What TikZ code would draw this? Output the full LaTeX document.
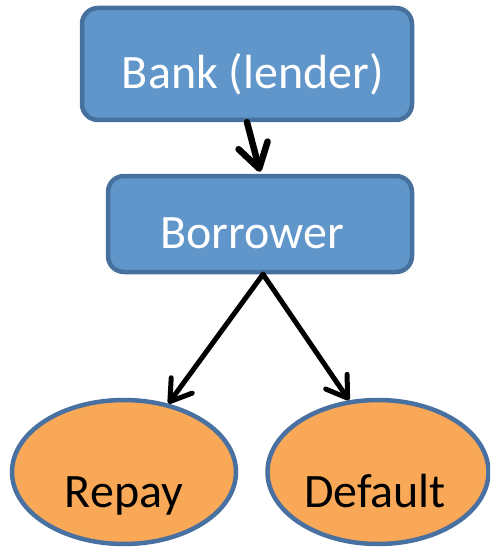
\documentclass[tikz,border=0pt]{standalone}
\usepackage{fontspec}
\setmainfont{Carlito}
\usetikzlibrary{arrows.meta,shapes.geometric}
\definecolor{boxfill}{RGB}{97,150,202}
\definecolor{boxline}{RGB}{70,112,158}
\definecolor{ovalfill}{RGB}{249,168,87}
\definecolor{ovalline}{RGB}{72,112,160}
\tikzset{
  x=1pt, y=-1pt,
  actor/.style={draw=boxline, fill=boxfill, line width=4.5pt, rounded corners=16pt,
                rectangle, inner sep=0pt},
  outcome/.style={draw=ovalline, fill=ovalfill, line width=4.5pt, ellipse, inner sep=0pt},
  boxtext/.style={anchor=base, font=\fontsize{48}{54}\selectfont, text=white, inner sep=0pt},
  ovaltext/.style={anchor=base, font=\fontsize{48}{54}\selectfont, text=black, inner sep=0pt},
  thick link/.style={line width=6.5pt, line cap=round,
                     -{Straight Barb[round, length=24pt, width=30pt]}},
  link/.style={line width=5pt, line cap=round,
               -{Straight Barb[round, length=20pt, width=26pt]}},
}
\begin{document}
\begin{tikzpicture}
  \path[use as bounding box] (0,0) rectangle (490,548);
  \begin{scope}
  \clip (0,0) rectangle (490,548);

  % boxes for the two parties
  \node[actor, minimum width=330pt, minimum height=112pt] (bank) at (247,64) {};
  \node[actor, minimum width=304pt, minimum height=96pt] (borrower) at (260,224) {};

  % the two possible outcomes
  \node[outcome, minimum width=224pt, minimum height=144pt] (repay) at (124,472) {};
  \node[outcome, minimum width=221pt, minimum height=144pt] (default) at (378,472) {};

  % labels
  \node[boxtext] (bankt) at (253,89) {Bank (lender)};
  \node[boxtext] (borrowert) at (252,248) {Borrower};
  \node[ovaltext] (repayt) at (124,507) {Repay};
  \node[ovaltext] (defaultt) at (375,507) {Default};

  % connectors
  \draw[thick link] (bank.south) -- ([yshift=2pt]borrower.north);
  \draw[link] ([xshift=3pt]borrower.south) -- (repay.57);
  \draw[link] ([xshift=3pt]borrower.south) -- (default.112);
  \end{scope}
\end{tikzpicture}
\end{document}
